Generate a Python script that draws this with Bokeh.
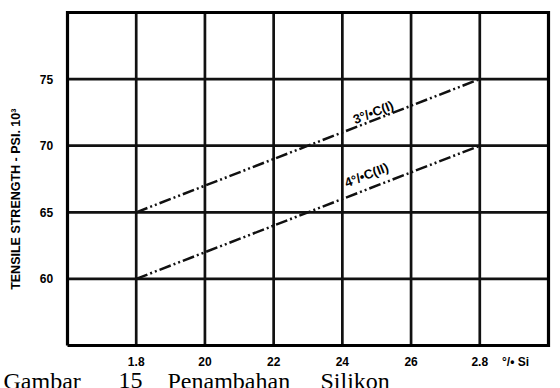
import math
from bokeh.plotting import figure
from bokeh.models import Label, Range1d, ColumnDataSource
from bokeh.core.properties import value
from bokeh.embed import file_html
from bokeh.resources import INLINE

# Data
si_pct = [1.8, 2.8]
c3_strength = [65, 75]   # 3% C (I)
c4_strength = [60, 70]   # 4% C (II)
x_min, x_max = 1.6, 3.0
y_min, y_max = 55, 80
x_ticks = [1.8, 2.0, 2.2, 2.4, 2.6, 2.8]
x_tick_labels = ["1.8", "20", "22", "24", "26", "2.8"]
x_unit_label = "°/• Si"
y_ticks = [60, 65, 70, 75]
y_tick_labels = ["60", "65", "70", "75"]
series_labels = ["3°/•C(I)", "4°/•C(II)"]
y_title = "TENSILE  STRENGTH - PSI. 10³"
caption_words = ["Gambar", "15", "Penambahan", "Silikon"]

# layout (pixels)
W, H = 560, 388
box_left, box_w, box_top, box_h = 67, 481, 12, 333
sx = (x_max - x_min) / box_w
sy = (y_max - y_min) / box_h


def px_x(px):
    return x_min + (px - box_left) * sx


def px_y(py):
    return y_max - (py - box_top) * sy


p = figure(width=W, height=H, output_backend="svg", toolbar_location=None,
           x_axis_location=None, y_axis_location=None,
           x_range=Range1d(px_x(0), px_x(W)), y_range=Range1d(px_y(H), px_y(0)),
           min_border_left=0, min_border_right=0, min_border_top=0, min_border_bottom=0)
p.background_fill_color = "white"
p.border_fill_color = "white"
p.outline_line_color = None
p.grid.visible = False

# grid
grid_col = "#111111"
p.segment(x0=x_ticks, y0=[y_min] * len(x_ticks), x1=x_ticks, y1=[y_max] * len(x_ticks),
          line_color=grid_col, line_width=2.7)
p.segment(x0=[x_min] * len(y_ticks), y0=y_ticks, x1=[x_max] * len(y_ticks), y1=y_ticks,
          line_color=grid_col, line_width=2.7)
# frame box
p.line([x_min, x_max, x_max, x_min, x_min], [y_min, y_min, y_max, y_max, y_min],
       line_color="black", line_width=3.2, line_join="miter")

dash = "12 3 2 3 2 3"
p.line(si_pct, c3_strength, line_color="#111111", line_width=2.5, line_dash=dash)
p.line(si_pct, c4_strength, line_color="#111111", line_width=2.5, line_dash=dash)

ang = math.atan((10 / sy) / (1.0 / sx))
for txt, x, y in [(series_labels[0], 2.49, 72.5), (series_labels[1], 2.47, 67.8)]:
    p.add_layout(Label(x=x, y=y, text=txt, angle=ang, text_align="center",
                       text_baseline="middle", text_font="Liberation Sans",
                       text_font_style="bold", text_font_size="13px", text_color="black"))

font = value("Liberation Sans")

# x tick labels
tick_src = ColumnDataSource(dict(x=x_ticks + [px_x(515)],
                                 y=[px_y(box_top + box_h + 16)] * (len(x_ticks) + 1),
                                 t=x_tick_labels + [x_unit_label]))
p.text(x="x", y="y", text="t", source=tick_src, text_align="center", text_baseline="middle",
       text_font=font, text_font_style="bold", text_font_size="12px", text_color="black")

# y tick labels
ytick_src = ColumnDataSource(dict(x=[px_x(46)] * len(y_ticks), y=y_ticks, t=y_tick_labels))
p.text(x="x", y="y", text="t", source=ytick_src, text_align="center", text_baseline="middle",
       text_font=font, text_font_style="bold", text_font_size="12px", text_color="black")

# y axis title
p.text(x=[px_x(15)], y=[px_y(197)], text=[y_title], angle=math.pi / 2,
       text_align="center", text_baseline="middle", text_font=font,
       text_font_style="bold", text_font_size="12.5px", text_color="black")

# caption at the bottom edge, as in the scan
cap_px = [3, 118, 167, 320]
cap_src = ColumnDataSource(dict(x=[px_x(v) for v in cap_px],
                                y=[px_y(H - 8)] * len(cap_px),
                                t=caption_words))
p.text(x="x", y="y", text="t", source=cap_src, text_align="left", text_baseline="alphabetic",
       text_font=value("Liberation Serif"), text_font_size="24px", text_color="black")

open("out.html", "w").write(file_html(p, INLINE))
